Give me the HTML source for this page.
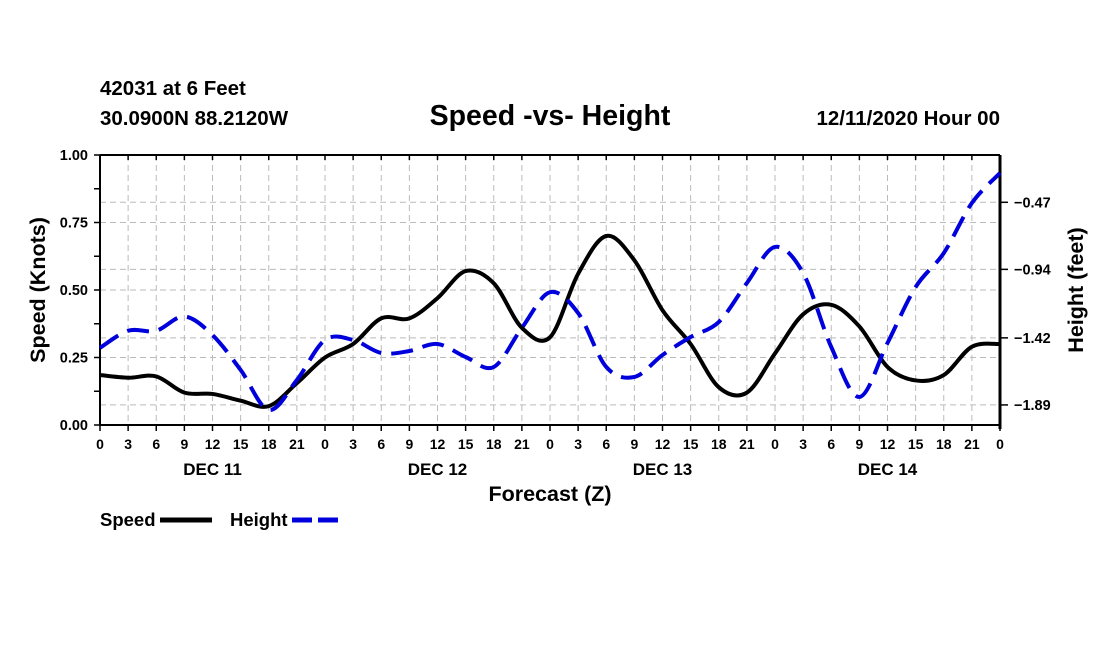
<!DOCTYPE html>
<html><head><meta charset="utf-8"><style>
body{margin:0;background:#fff;}
svg text{font-family:"Liberation Sans",Arial,sans-serif;font-weight:bold;fill:#000;}
</style></head><body>
<svg width="1100" height="650" viewBox="0 0 1100 650" xmlns="http://www.w3.org/2000/svg">
<text x="100" y="95" font-size="20.5">42031 at 6 Feet</text>
<text x="100" y="125" font-size="20.5">30.0900N 88.2120W</text>
<text x="550" y="125" font-size="28.5" text-anchor="middle">Speed -vs- Height</text>
<text x="1000" y="125" font-size="20.5" text-anchor="end">12/11/2020 Hour 00</text>
<g id="grid"></g>
<g id="axes"></g>
<g id="series"></g>
<text x="550" y="501" font-size="21.5" text-anchor="middle">Forecast (Z)</text>
<text transform="translate(45,290) rotate(-90)" font-size="21.5" text-anchor="middle">Speed (Knots)</text>
<text transform="translate(1083,290) rotate(-90)" font-size="21.5" text-anchor="middle">Height (feet)</text>
<g>
<text x="100" y="526" font-size="18.5">Speed</text>
<line x1="160" y1="520" x2="212" y2="520" stroke="#000" stroke-width="5"/>
<text x="230" y="526" font-size="18.5">Height</text>
<line x1="292" y1="520" x2="342" y2="520" stroke="#0000dd" stroke-width="5" stroke-dasharray="20,6"/>
</g>
</svg>
<script>
const hours=[0,3,6,9,12,15,18,21,0,3,6,9,12,15,18,21,0,3,6,9,12,15,18,21,0,3,6,9,12,15,18,21,0];
const dayLabels=["DEC 11","DEC 12","DEC 13","DEC 14"];
const speed=[0.185,0.175,0.18,0.12,0.115,0.09,0.07,0.155,0.25,0.3,0.395,0.395,0.47,0.57,0.525,0.36,0.325,0.56,0.70,0.61,0.425,0.30,0.14,0.12,0.265,0.41,0.445,0.365,0.215,0.165,0.185,0.29,0.30];
const height=[-1.49,-1.37,-1.37,-1.27,-1.40,-1.645,-1.925,-1.715,-1.435,-1.435,-1.526,-1.512,-1.463,-1.554,-1.624,-1.35,-1.10,-1.246,-1.624,-1.694,-1.54,-1.414,-1.309,-1.036,-0.783,-0.966,-1.484,-1.834,-1.456,-1.064,-0.826,-0.475,-0.265];
const leftTicks=["0.00","0.25","0.50","0.75","1.00"];
const rightTicks=[-0.47,-0.94,-1.42,-1.89];
const NS="http://www.w3.org/2000/svg";
const L=100,R=1000,T=155,B=425;
const xs=i=>L+(R-L)*i/(hours.length-1);
const yL=v=>B-(B-T)*v;
const yR=h=>202.3+(-0.47-h)*142.7;
function el(tag,attrs,parent,text){const e=document.createElementNS(NS,tag);for(const k in attrs)e.setAttribute(k,attrs[k]);if(text!==undefined)e.textContent=text;parent.appendChild(e);return e;}
const grid=document.getElementById('grid'),axes=document.getElementById('axes'),series=document.getElementById('series');
for(let i=1;i<hours.length-1;i++){const g=el('line',{x1:xs(i),y1:T,x2:xs(i),y2:B,stroke:'#bbb','stroke-dasharray':'6,4','stroke-width':1},grid);

}
leftTicks.forEach(t=>{const v=parseFloat(t);if(v>0&&v<1){const g=el('line',{x1:L,y1:yL(v),x2:R,y2:yL(v),stroke:'#bbb','stroke-dasharray':'6,4'},grid);

}});
rightTicks.forEach(h=>{const g=el('line',{x1:L,y1:yR(h),x2:R,y2:yR(h),stroke:'#bbb','stroke-dasharray':'6,4'},grid);

});
el('line',{x1:L,y1:T,x2:L,y2:B,stroke:'#000','stroke-width':2},axes);
el('line',{x1:L,y1:B,x2:R,y2:B,stroke:'#000','stroke-width':2},axes);
el('line',{x1:L,y1:T,x2:R,y2:T,stroke:'#000','stroke-width':2},axes);
el('line',{x1:R,y1:T,x2:R,y2:B+4,stroke:'#000','stroke-width':3},axes);
for(let k=0;k<=8;k++){const v=k/8;el('line',{x1:L-6,y1:yL(v),x2:L,y2:yL(v),stroke:'#000','stroke-width':1.5},axes);}
leftTicks.forEach(t=>{const e=el('text',{x:L-12,y:yL(parseFloat(t))+5,'font-size':14.5,'text-anchor':'end'},axes,t);

});
rightTicks.forEach(h=>{el('line',{x1:R,y1:yR(h),x2:R+8,y2:yR(h),stroke:'#000','stroke-width':1.5},axes);
const e=el('text',{x:R+14,y:yR(h)+5,'font-size':14.5},axes,h.toFixed(2).replace('-','\u2212'));

});
hours.forEach((h,i)=>{el('line',{x1:xs(i),y1:B,x2:xs(i),y2:B+6,stroke:'#000','stroke-width':1.5},axes);
el('line',{x1:xs(i),y1:T,x2:xs(i),y2:T+5,stroke:'#000','stroke-width':1.5},axes);
const e=el('text',{x:xs(i),y:B+24,'font-size':14,'text-anchor':'middle'},axes,String(h));

});
dayLabels.forEach((d,k)=>{const e=el('text',{x:xs(k*8+4),y:B+50,'font-size':17,'text-anchor':'middle'},axes,d);

});
function smooth(pts){let d='M'+pts[0][0]+','+pts[0][1];for(let i=0;i<pts.length-1;i++){const p0=pts[Math.max(0,i-1)],p1=pts[i],p2=pts[i+1],p3=pts[Math.min(pts.length-1,i+2)];
d+=' C'+(p1[0]+(p2[0]-p0[0])/6)+','+(p1[1]+(p2[1]-p0[1])/6)+' '+(p2[0]-(p3[0]-p1[0])/6)+','+(p2[1]-(p3[1]-p1[1])/6)+' '+p2[0]+','+p2[1];}return d;}
const sp=el('path',{d:smooth(speed.map((v,i)=>[xs(i),yL(v)])),fill:'none',stroke:'#000','stroke-width':4},series);


const hp=el('path',{d:smooth(height.map((v,i)=>[xs(i),yR(v)])),fill:'none',stroke:'#0000dd','stroke-width':4,'stroke-dasharray':'22,10'},series);


</script>
</body></html>
